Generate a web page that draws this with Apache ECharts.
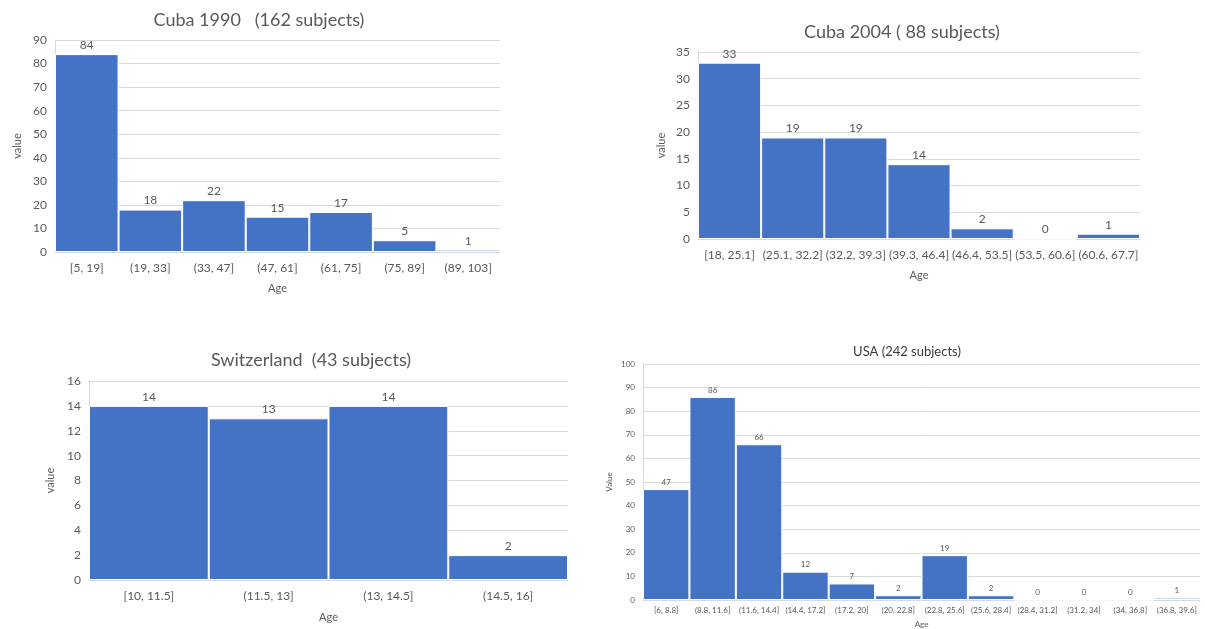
<!DOCTYPE html>
<html>
<head>
<meta charset="utf-8">
<script src="https://cdn.jsdelivr.net/npm/echarts@6/dist/echarts.min.js"></script>
<style>
  html, body { margin: 0; padding: 0; background: #ffffff; }
  #chart { width: 1205px; height: 629px; }
</style>
</head>
<body>
<div id="chart"></div>
<script>
// Age histograms for four study groups
const cuba1990Bins = ['[5, 19]', '(19, 33]', '(33, 47]', '(47, 61]', '(61, 75]', '(75, 89]', '(89, 103]'];
const cuba1990Counts = [84, 18, 22, 15, 17, 5, 1];

const cuba2004Bins = ['[18, 25.1]', '(25.1, 32.2]', '(32.2, 39.3]', '(39.3, 46.4]', '(46.4, 53.5]', '(53.5, 60.6]', '(60.6, 67.7]'];
const cuba2004Counts = [33, 19, 19, 14, 2, 0, 1];

const swissBins = ['[10, 11.5]', '(11.5, 13]', '(13, 14.5]', '(14.5, 16]'];
const swissCounts = [14, 13, 14, 2];

const usaBins = ['[6, 8.8]', '(8.8, 11.6]', '(11.6, 14.4]', '(14.4, 17.2]', '(17.2, 20]', '(20, 22.8]', '(22.8, 25.6]', '(25.6, 28.4]', '(28.4, 31.2]', '(31.2, 34]', '(34, 36.8]', '(36.8, 39.6]'];
const usaCounts = [47, 86, 66, 12, 7, 2, 19, 2, 0, 0, 0, 1];

const titles = ['Cuba 1990   (162 subjects)', 'Cuba 2004 ( 88 subjects)', 'Switzerland  (43 subjects)', 'USA (242 subjects)'];

const FONT = 'Lato, "Open Sans", sans-serif';
const TEXT = '#595959';
const GRIDLINE = '#d9d9d9';
const BAR = '#4472c4';

const panels = [
  { bins: cuba1990Bins, counts: cuba1990Counts, max: 90, step: 10, yName: 'value',
    grid: { left: 55, right: 705, top: 40, bottom: 377 },
    title: { x: 254, y: 6, size: 18 }, tick: 12, lab: 12, name: 11, xGap: 31, yGap: 32, labMargin: 10 },
  { bins: cuba2004Bins, counts: cuba2004Counts, max: 35, step: 5, yName: 'value',
    grid: { left: 698, right: 65, top: 52, bottom: 390 },
    title: { x: 897, y: 18, size: 18 }, tick: 12, lab: 12, name: 11, xGap: 31, yGap: 31, labMargin: 10 },
  { bins: swissBins, counts: swissCounts, max: 16, step: 2, yName: 'value',
    grid: { left: 89, right: 637, top: 381, bottom: 49 },
    title: { x: 306, y: 346, size: 18 }, tick: 12, lab: 12, name: 11, xGap: 32, yGap: 33, labMargin: 10 },
  { bins: usaBins, counts: usaCounts, max: 100, step: 10, yName: 'Value',
    grid: { left: 643, right: 5, top: 364, bottom: 28 },
    title: { x: 902, y: 340, size: 13 }, tick: 8, lab: 8, name: 8, xGap: 20, yGap: 30, labMargin: 6 }
];

const option = {
  backgroundColor: '#ffffff',
  animation: false,
  textStyle: { fontFamily: FONT },
  title: panels.map((p, i) => ({
    text: titles[i],
    left: p.title.x,
    top: p.title.y,
    textAlign: 'center',
    textStyle: { fontFamily: FONT, fontSize: p.title.size, fontWeight: 'normal', color: i === 3 ? '#3a3a3a' : TEXT }
  })),
  grid: panels.map(p => Object.assign({ containLabel: false }, p.grid)),
  xAxis: panels.map((p, i) => ({
    type: 'category',
    gridIndex: i,
    data: p.bins,
    name: 'Age',
    nameLocation: 'middle',
    nameGap: p.xGap,
    nameTextStyle: { fontFamily: FONT, fontSize: p.name, color: TEXT },
    axisLine: { show: true, lineStyle: { color: GRIDLINE, width: 1 } },
    axisTick: { show: false },
    axisLabel: { interval: 0, margin: p.labMargin, fontFamily: FONT, fontSize: p.lab, color: TEXT }
  })),
  yAxis: panels.map((p, i) => ({
    type: 'value',
    gridIndex: i,
    min: 0,
    max: p.max,
    interval: p.step,
    name: p.yName,
    nameLocation: 'middle',
    nameGap: p.yGap,
    nameRotate: 90,
    nameTextStyle: { fontFamily: FONT, fontSize: p.name, color: TEXT },
    axisLine: { show: true, lineStyle: { color: GRIDLINE, width: 1 } },
    axisTick: { show: false },
    axisLabel: { margin: 8, fontFamily: FONT, fontSize: p.tick, color: TEXT },
    splitLine: { show: true, lineStyle: { color: GRIDLINE, width: 1 } }
  })),
  series: panels.map((p, i) => ({
    type: 'bar',
    xAxisIndex: i,
    yAxisIndex: i,
    data: p.counts,
    barCategoryGap: 0,
    itemStyle: { color: BAR, borderColor: '#ffffff', borderWidth: 1 },
    label: { show: true, position: 'top', distance: 3, fontFamily: FONT, fontSize: p.lab, color: TEXT }
  }))
};

const chart = echarts.init(document.getElementById('chart'), null, { renderer: 'canvas' });
chart.setOption(option);
</script>
</body>
</html>
